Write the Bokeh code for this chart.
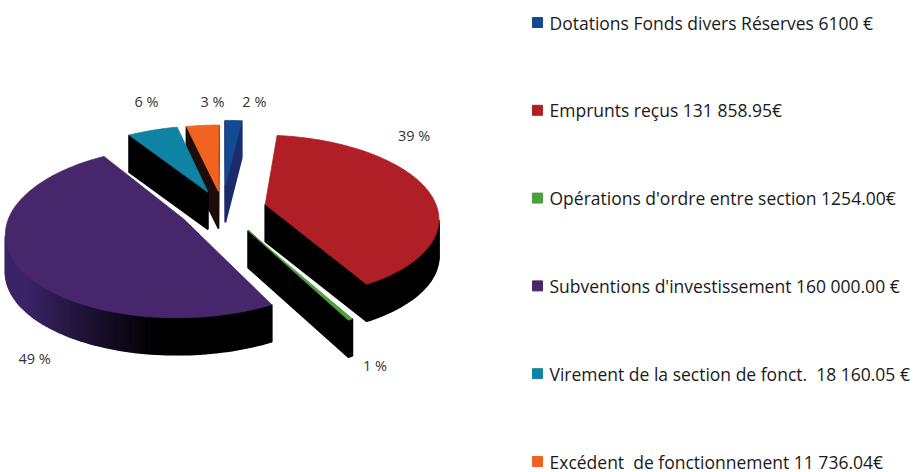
import math
import numpy as np
from bokeh.plotting import figure
from bokeh.models import Range1d
from bokeh.core.properties import value
from bokeh.embed import file_html
from bokeh.resources import INLINE

# ---------------- data ----------------
categories = [
    "Dotations Fonds divers Réserves 6100 €",
    "Emprunts reçus 131 858.95€",
    "Opérations d'ordre entre section 1254.00€",
    "Subventions d'investissement 160 000.00 €",
    "Virement de la section de fonct.\u00a0 18 160.05 €",
    "Excédent\u00a0 de fonctionnement 11 736.04€",
]
amounts = [6100.0, 131858.95, 1254.0, 160000.0, 18160.05, 11736.04]
pct_labels = ["2 %", "39 %", "1 %", "49 %", "6 %", "3 %"]

# ---------------- style ----------------
top_colors = ["#134a91", "#b01f25", "#4e9f3f", "#47276c", "#0f83a3", "#f26322"]
cut_colors = ["#1c2b6c", "#000000", "#000000", "#000000", "#000000", "#1e0c0c"]
wall_light = ["#000000", "#000000", "#000000", "#3b2468", "#000000", "#000000"]
explode = [0.30, 0.255, 0.30, 0.256, 0.225, 0.22]
label_ang = [9.0, 46.0, 148.5, 213.5, 342.2, 358.1]
label_rad = [1.36, 1.44, 1.12, 1.24, 1.51, 1.43]

CX, CY = 222.0, 208.0
F, D = 1032.0, 6.0
PHI = math.radians(28)
DEPTH = 37.0

def proj(X, Z):
    zc = D - Z * math.cos(PHI)
    return CX + F * X / zc, CY + F * Z * math.sin(PHI) / zc

def hex2rgb(h):
    h = h.lstrip("#")
    return [int(h[i:i + 2], 16) for i in (0, 2, 4)]

def lerp_color(c0, c1, t):
    a, b = hex2rgb(c0), hex2rgb(c1)
    return "#%02x%02x%02x" % tuple(int(round(a[k] + (b[k] - a[k]) * t)) for k in range(3))

total = sum(amounts)
fracs = [a / total for a in amounts]
starts = np.concatenate([[0.0], np.cumsum(fracs)[:-1]]) * 2 * math.pi
ends = np.cumsum(fracs) * 2 * math.pi

slices = []
for i in range(len(amounts)):
    t0, t1 = starts[i], ends[i]
    m = 0.5 * (t0 + t1)
    ex, ez = explode[i] * math.sin(m), -explode[i] * math.cos(m)
    n = max(3, int(math.degrees(t1 - t0) / 1.5))
    th = np.linspace(t0, t1, n)
    pts = [proj(ex, ez)] + [proj(ex + math.sin(t), ez - math.cos(t)) for t in th]
    cz = ez + 0.5 * (-math.cos(m))
    slices.append(dict(i=i, pts=pts, th=th, cz=cz, ex=ex, ez=ez))

xs, ys, cols, lws = [], [], [], []
for s in sorted(slices, key=lambda s: s["cz"]):
    i, pts, th = s["i"], s["pts"], s["th"]
    npts = len(pts)
    for k in range(npts):
        a, b = pts[k], pts[(k + 1) % npts]
        if b[0] - a[0] >= 0:
            continue
        if k == 0 or k == npts - 1:
            col = cut_colors[i]
        else:
            tm = 0.5 * (th[k - 1] + th[k])
            t = min(1.0, max(0.0, (-math.sin(tm) - 0.1) / 0.7))
            col = lerp_color("#000000", wall_light[i], t)
        xs.append([a[0], b[0], b[0], a[0]])
        ys.append([a[1], b[1], b[1] + DEPTH, a[1] + DEPTH])
        cols.append(col)
        lws.append(1.6)
    xs.append([q[0] for q in pts])
    ys.append([q[1] for q in pts])
    cols.append(top_colors[i])
    lws.append(0.8)

lab_x, lab_y = [], []
for s in slices:
    i = s["i"]
    a = math.radians(label_ang[i])
    X = s["ex"] + label_rad[i] * math.sin(a)
    Z = s["ez"] - label_rad[i] * math.cos(a)
    x, y = proj(X, Z)
    if math.cos(a) < 0:
        y += DEPTH
    lab_x.append(x)
    lab_y.append(y)

p = figure(width=920, height=472, x_range=Range1d(0, 920), y_range=Range1d(472, 0),
           output_backend="svg", toolbar_location=None, min_border=0,
           x_axis_location=None, y_axis_location=None)
p.outline_line_color = None
p.xgrid.visible = False
p.ygrid.visible = False
p.background_fill_color = "white"
p.border_fill_color = "white"

p.patches(xs, ys, fill_color=cols, line_color=cols, line_width=lws)

p.text(x=lab_x, y=lab_y, text=pct_labels, text_align="center", text_baseline="middle",
       text_font=value("Open Sans"), text_font_size="14.5px", text_color="#333333")

# legend
row_y = [22 + k * 87.8 for k in range(len(categories))]
p.rect(x=[537] * len(categories), y=row_y, width=10, height=10,
       fill_color=top_colors, line_color=top_colors)
p.text(x=[549] * len(categories), y=row_y, text=categories, text_align="left",
       text_baseline="middle", text_font=value("Open Sans"), text_font_size="17.5px",
       text_color="#1a1a1a")

open("out.html", "w").write(file_html(p, INLINE))
